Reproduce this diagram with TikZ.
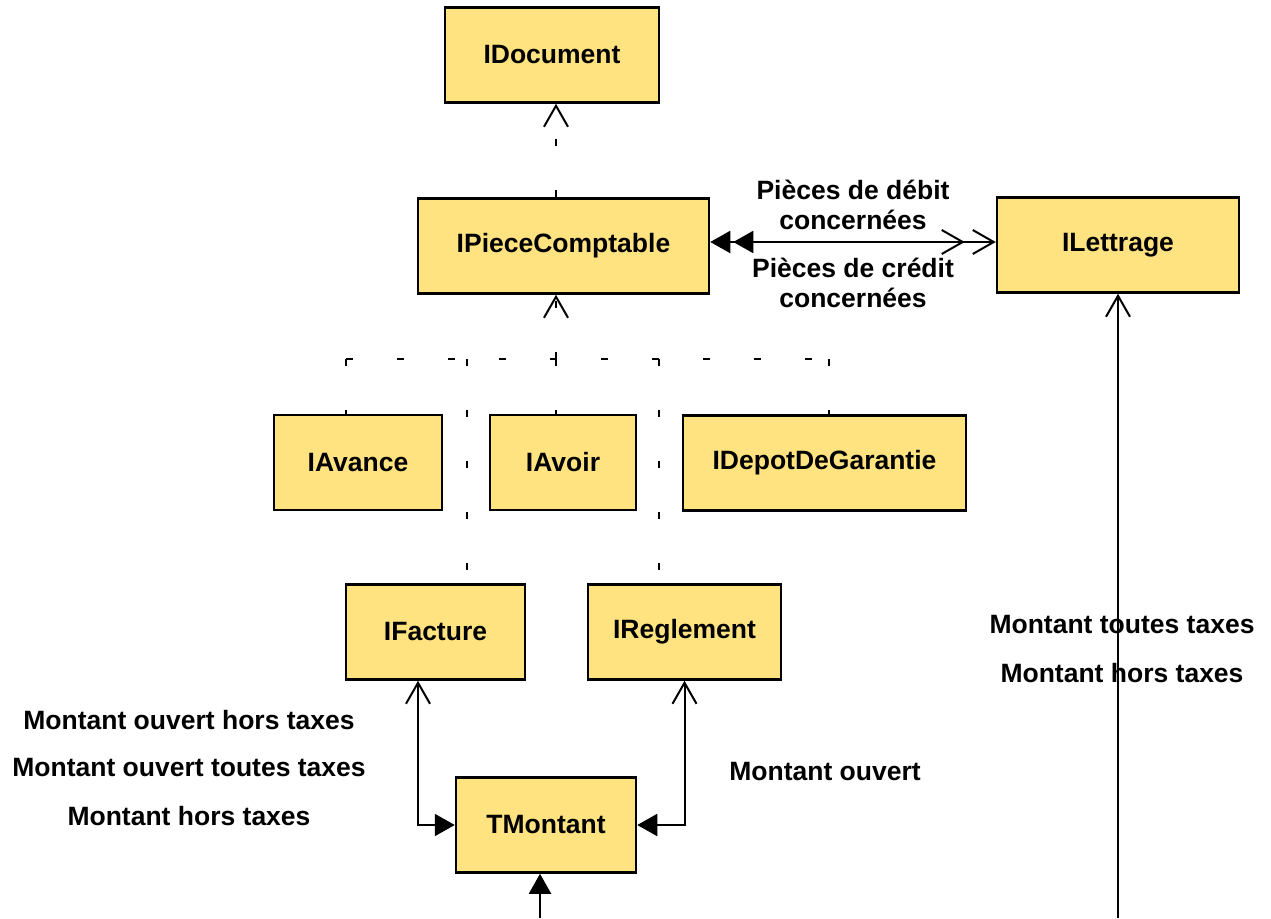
\documentclass[tikz,border=0pt]{standalone}
\usepackage{fontspec}
\setmainfont{Liberation Sans}
\usetikzlibrary{arrows.meta}
\definecolor{boxfill}{RGB}{255,227,128}

\begin{document}
\begin{tikzpicture}[x=1pt,y=-1pt,
  iface/.style={draw,line width=2.5pt,fill=boxfill,minimum height=95pt,inner sep=0pt,font=\bfseries\fontsize{26.5}{31}\selectfont},
  role/.style={font=\bfseries\fontsize{26.5}{30}\selectfont,align=center},
  link/.style={line width=2pt},
  dep/.style={line width=2pt,dash pattern=on 7pt off 44pt},
  navi/.style={-{Straight Barb[length=21pt,width=24pt]}},
  ownr/.style={{Triangle[length=20pt,width=22pt]}-{Straight Barb[length=21pt,width=24pt]}}]
    \useasboundingbox (0,0) rectangle (1271,918);

    \node[iface,minimum width=214pt] (doc) at (552,55) {IDocument};
    \node[iface,minimum width=291pt] (pc) at (563.5,246) {IPieceComptable};
    \node[iface,minimum width=242pt] (lt) at (1118,245) {ILettrage};
    \node[iface,minimum width=168pt] (av) at (358,462.5) {IAvance};
    \node[iface,minimum width=146pt] (ao) at (563,462.5) {IAvoir};
    \node[iface,minimum width=283pt] (dg) at (824.5,463) {IDepotDeGarantie};
    \node[iface,minimum width=179pt] (fac) at (435.5,632) {IFacture};
    \node[iface,minimum width=193pt] (rg) at (684.5,632) {IReglement};
    \node[iface,minimum width=180pt] (mt) at (546,825) {TMontant};

    % dependances
    \coordinate (bus) at (556,359);
    \coordinate (busL) at (346,359);
    \coordinate (busR) at (829,359);
    \coordinate (busF) at (467,359);
    \coordinate (busG) at (659,359);
    \draw[dep,navi] (bus |- pc.north) -- (bus |- doc.south);
    \draw[dep,navi] (bus) -- (bus |- pc.south);
    \draw[dep] (busL) -- (busR);
    \draw[dep] (busL) -- (busL |- av.north);
    \draw[dep] (busR) -- (busR |- dg.north);
    \draw[dep] (bus) -- (bus |- ao.north);
    \draw[dep] (busF) -- (busF |- fac.north);
    \draw[dep] (busG) -- (busG |- rg.north);

    % associations
    \draw[link,ownr] ([yshift=4pt]pc.east) -- ([yshift=4pt]pc.east -| lt.west);
    \draw[link,ownr,shorten <=23pt,shorten >=31pt] ([yshift=4pt]pc.east) -- ([yshift=4pt]pc.east -| lt.west);
    \node[role] (debit) at (853,205) {Pièces de débit\\concernées};
    \node[role] (credit) at (853,283) {Pièces de crédit\\concernées};

    \draw[link,ownr] (mt.west) -| ([xshift=-17.5pt]fac.south);
    \draw[link,ownr] (mt.east) -| (rg.south);
    \coordinate (mtin) at (540,918);
    \coordinate (ltin) at (1118,918);
    \draw[link,-{Triangle[length=20pt,width=22pt]}] (mtin) -- (mtin |- mt.south);
    \draw[link,navi] (ltin) -- (lt.south);

    \node[role] (ouvht) at (189,720) {Montant ouvert hors taxes};
    \node[role] (ouvttc) at (189,768) {Montant ouvert toutes taxes};
    \node[role] (ht) at (189,816) {Montant hors taxes};
    \node[role] (ouv) at (825,772) {Montant ouvert};
    \node[role] (lttc) at (1122,625) {Montant toutes taxes};
    \node[role] (lht) at (1122,673) {Montant hors taxes};
\end{tikzpicture}
\end{document}
